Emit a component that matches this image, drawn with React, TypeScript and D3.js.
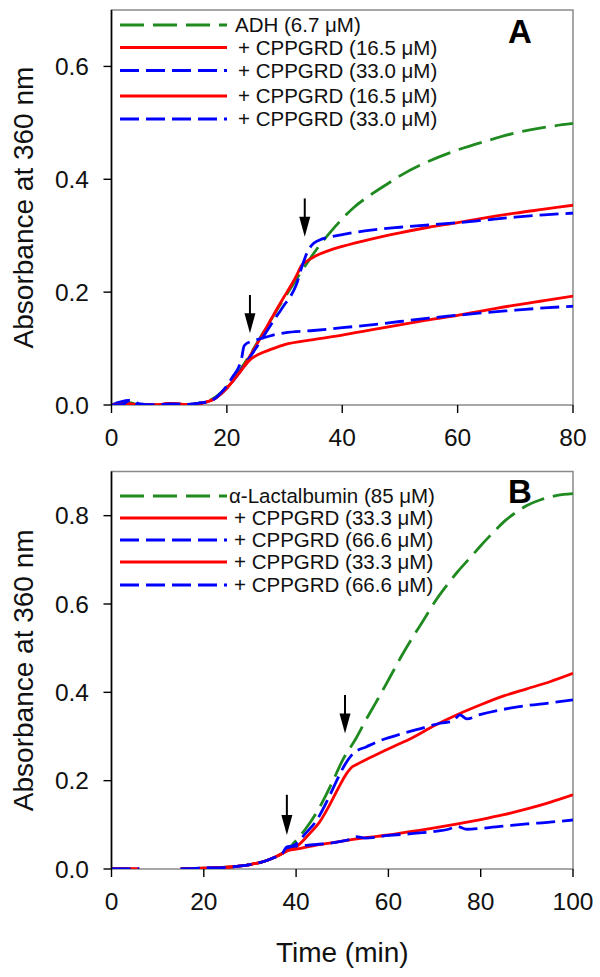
import React from "react";
import * as d3 from "d3";

// ---------------- Panel A data ----------------
const aXTicks = [0, 20, 40, 60, 80];
const aYTicks = [0.0, 0.2, 0.4, 0.6];
const aYTickLabels = ["0.0", "0.2", "0.4", "0.6"];

const aGreenT = [0,3,5,8,10,13,15,17,18,19,20,21,22,23,24,25,26,27,28,29,30,31,32,33,34,35,36,37,38,40,42,45,48,50,55,60,65,70,75,80];
const aGreenV = [0,0.004,0,0,0.002,0.001,0.003,0.008,0.014,0.022,0.032,0.044,0.058,0.073,0.089,0.106,0.123,0.14,0.157,0.174,0.19,0.206,0.222,0.238,0.253,0.268,0.282,0.295,0.307,0.33,0.35,0.373,0.393,0.406,0.432,0.452,0.468,0.482,0.492,0.499];

const aUpperT = [0,3,5,8,10,13,15,17,18,19,20,21,22,23,24,25,26,27,28,29,30,31,32,33,34,35,36,38,40,45,50,55,60,65,70,75,80];
const aRedUpperV = [0,0.002,0,0,0.003,0.001,0.002,0.007,0.012,0.02,0.03,0.042,0.055,0.07,0.087,0.104,0.122,0.14,0.158,0.176,0.193,0.21,0.228,0.248,0.256,0.262,0.267,0.275,0.281,0.294,0.305,0.315,0.323,0.332,0.34,0.347,0.354];
const aBlueUpperV = [0,0.008,0.002,0,0.002,0.001,0.003,0.007,0.012,0.02,0.03,0.042,0.055,0.07,0.085,0.1,0.116,0.132,0.148,0.163,0.178,0.192,0.212,0.245,0.272,0.286,0.292,0.298,0.302,0.31,0.315,0.319,0.323,0.328,0.333,0.337,0.34];

const aRedLowerT = [0,3,5,8,10,13,15,17,18,19,20,21,22,23,24,25,26,28,30,35,40,45,50,55,60,65,70,75,80];
const aRedLowerV = [0,0.002,0,0,0.003,0.001,0.002,0.007,0.012,0.02,0.03,0.042,0.055,0.068,0.08,0.087,0.092,0.1,0.107,0.116,0.124,0.133,0.142,0.151,0.159,0.168,0.177,0.185,0.193];

const aBlueLowerT = [0,2,3,4,5,8,10,13,15,17,18,19,20,21,22,22.5,23,24,25,26,28,30,35,40,45,50,55,60,65,70,75,80];
const aBlueLowerV = [0,0.001,0.008,0.003,0.001,0,0.002,0.001,0.003,0.007,0.012,0.022,0.034,0.05,0.066,0.08,0.105,0.112,0.115,0.118,0.124,0.128,0.132,0.137,0.142,0.148,0.154,0.159,0.164,0.168,0.172,0.175];

const aLegend = ["ADH (6.7 \u03bcM)", "+ CPPGRD (16.5 \u03bcM)", "+ CPPGRD (33.0 \u03bcM)", "+ CPPGRD (16.5 \u03bcM)", "+ CPPGRD (33.0 \u03bcM)"];
const aArrowT = [24, 33.5];
const aArrowTop = [0.195, 0.366];
const aArrowTip = [0.127, 0.298];

// ---------------- Panel B data ----------------
const bXTicks = [0, 20, 40, 60, 80, 100];
const bYTicks = [0.0, 0.2, 0.4, 0.6, 0.8];
const bYTickLabels = ["0.0", "0.2", "0.4", "0.6", "0.8"];

const bGreenT = [0,6,10,15,20,25,28,30,33,35,37,38,40,42,45,48,50,53,55,58,60,63,65,68,70,73,75,78,80,83,85,88,90,93,95,98,100];
const bGreenV = [0,0,null,0,0.002,0.004,0.007,0.01,0.017,0.025,0.035,0.042,0.065,0.09,0.138,0.2,0.245,0.296,0.335,0.39,0.428,0.485,0.52,0.57,0.604,0.647,0.673,0.708,0.732,0.765,0.786,0.81,0.823,0.836,0.842,0.848,0.85];

const bRedUpperT = [0,6,10,15,20,25,28,30,33,35,37,38,40,43,45,47,49,51,52,53,55,58,61,65,70,75,80,85,90,95,100];
const bRedUpperV = [0,0,null,0,0.002,0.004,0.007,0.01,0.017,0.025,0.035,0.041,0.05,0.081,0.105,0.14,0.18,0.217,0.23,0.236,0.247,0.262,0.277,0.296,0.325,0.35,0.372,0.392,0.408,0.424,0.443];

const bBlueUpperT = [0,6,10,15,20,25,28,30,33,35,37,38,40,42,44.5,47,48.8,50.5,52.4,55.3,58,63.2,67,71.2,74,75.5,77,80,86.3,90,95,100];
const bBlueUpperV = [0,0,null,0,0.002,0.004,0.007,0.01,0.017,0.025,0.035,0.045,0.057,0.08,0.111,0.16,0.2,0.235,0.262,0.277,0.29,0.307,0.318,0.33,0.335,0.349,0.34,0.35,0.364,0.37,0.376,0.383];

const bRedLowerT = [0,6,10,15,20,25,28,30,33,35,37,38,40,45,50,55,60,65,70,75,80,85,90,95,100];
const bRedLowerV = [0,0,null,0,0.002,0.004,0.007,0.01,0.017,0.025,0.035,0.041,0.045,0.055,0.063,0.071,0.077,0.085,0.093,0.102,0.112,0.123,0.136,0.151,0.168];

const bBlueLowerT = [0,6,10,15,20,25,28,30,33,35,37,38,40,45,50,52,53,55,60,65,70,73,75,77,80,85,90,95,100];
const bBlueLowerV = [0,0,null,0,0.002,0.004,0.007,0.01,0.017,0.025,0.035,0.05,0.052,0.056,0.063,0.068,0.073,0.07,0.076,0.08,0.085,0.09,0.096,0.09,0.092,0.097,0.102,0.106,0.111];

const bLegend = ["\u03b1-Lactalbumin (85 \u03bcM)", "+ CPPGRD (33.3 \u03bcM)", "+ CPPGRD (66.6 \u03bcM)", "+ CPPGRD (33.3 \u03bcM)", "+ CPPGRD (66.6 \u03bcM)"];
const bArrowT = [38, 50.6];
const bArrowTop = [0.168, 0.394];
const bArrowTip = [0.077, 0.307];

// ---------------- styles ----------------
const FONT = "'Liberation Sans', Arial, Helvetica, sans-serif";
const GREEN = "#1f8a1f";
const RED = "#ff0000";
const BLUE = "#0000ff";
const seriesStyles = [
  { color: GREEN, dash: "24 9" },
  { color: RED, dash: null },
  { color: BLUE, dash: "19 7" },
  { color: RED, dash: null },
  { color: BLUE, dash: "19 7" },
];

type PanelCfg = {
  xMax: number;
  yMax: number;
  xTicks: number[];
  yTicks: number[];
  yTickLabels: string[];
  top: number;
  bottom: number;
  series: { t: number[]; v: (number | null)[] }[];
  legend: string[];
  legendRows: number[];
  legendTextX: number[];
  letter: string;
  letterY: number;
  arrowT: number[];
  arrowTop: number[];
  arrowTip: number[];
  showXTitle: boolean;
  id: string;
};

const LEFT = 111.5;
const RIGHT = 573;

function Panel({ c }: { c: PanelCfg }) {
  const x = d3.scaleLinear().domain([0, c.xMax]).range([LEFT, RIGHT]);
  const y = d3.scaleLinear().domain([0, c.yMax]).range([c.bottom, c.top]);
  const line = d3
    .line<{ t: number; v: number | null }>()
    .defined((d) => d.v !== null)
    .x((d) => x(d.t))
    .y((d) => y(d.v as number))
    .curve(d3.curveMonotoneX);
  const midY = (c.top + c.bottom) / 2;
  const clipId = "clip" + c.id;
  return (
    <g>
      <defs>
        <clipPath id={clipId}>
          <rect x={LEFT} y={c.top} width={RIGHT - LEFT} height={c.bottom - c.top} />
        </clipPath>
      </defs>
      {/* frame */}
      <rect x={LEFT} y={c.top} width={RIGHT - LEFT} height={c.bottom - c.top} fill="none" stroke="#8a8a8a" strokeWidth={1.5} />
      {/* legend */}
      {c.legend.map((lab, i) => (
        <g key={"lg" + i}>
          <line
            x1={120}
            x2={227}
            y1={c.legendRows[i]}
            y2={c.legendRows[i]}
            stroke={seriesStyles[i].color}
            strokeWidth={3}
            strokeDasharray={seriesStyles[i].dash || undefined}
          />
          <text x={c.legendTextX[i]} y={c.legendRows[i] + 7} fontSize={20.5} fontFamily={FONT} fill="#111">
            {lab}
          </text>
        </g>
      ))}
      {/* series */}
      <g clipPath={`url(#${clipId})`}>
        {c.series.map((s, i) => {
          const pts = s.t.map((t, k) => ({ t, v: s.v[k] }));
          return (
            <path
              key={"s" + i}
              d={line(pts) || ""}
              fill="none"
              stroke={seriesStyles[i].color}
              strokeWidth={2.8}
              strokeDasharray={seriesStyles[i].dash || undefined}
              strokeLinejoin="round"
            />
          );
        })}
      </g>
      {/* left axis */}
      <line x1={LEFT} x2={LEFT} y1={c.top} y2={c.bottom} stroke="#000" strokeWidth={1.6} />
      {c.yTicks.map((t, i) => (
        <g key={"yt" + i}>
          <line x1={LEFT - 8} x2={LEFT} y1={y(t)} y2={y(t)} stroke="#000" strokeWidth={1.4} />
          <text x={89} y={y(t) + 8.8} textAnchor="end" fontSize={24.5} fontFamily={FONT} fill="#111">
            {c.yTickLabels[i]}
          </text>
        </g>
      ))}
      {c.xTicks.map((t, i) => (
        <g key={"xt" + i}>
          <line x1={x(t)} x2={x(t)} y1={c.bottom} y2={c.bottom + 8} stroke="#000" strokeWidth={1.4} />
          <text x={x(t)} y={c.bottom + 41} textAnchor="middle" fontSize={24.5} fontFamily={FONT} fill="#111">
            {t}
          </text>
        </g>
      ))}
      {/* arrows */}
      {c.arrowT.map((t, i) => {
        const ax = x(t);
        const y0 = y(c.arrowTop[i]);
        const y1 = y(c.arrowTip[i]);
        const headLen = 20;
        const headW = 5.5;
        return (
          <g key={"ar" + i}>
            <line x1={ax} x2={ax} y1={y0} y2={y1 - headLen + 2} stroke="#000" strokeWidth={2} />
            <polygon points={`${ax - headW},${y1 - headLen} ${ax + headW},${y1 - headLen} ${ax},${y1}`} fill="#000" />
          </g>
        );
      })}
      {/* panel letter */}
      <text x={520} y={c.letterY} textAnchor="middle" fontSize={33} fontWeight="bold" fontFamily={FONT} fill="#000">
        {c.letter}
      </text>
      {/* y title */}
      <text
        transform={`translate(33,${midY}) rotate(-90)`}
        textAnchor="middle"
        fontSize={28}
        fontFamily={FONT}
        fill="#111"
      >
        Absorbance at 360 nm
      </text>
      {c.showXTitle && (
        <text x={(LEFT + RIGHT) / 2} y={962} textAnchor="middle" fontSize={28} fontFamily={FONT} fill="#111">
          Time (min)
        </text>
      )}
    </g>
  );
}

export default function App() {
  const panelA: PanelCfg = {
    id: "A",
    xMax: 80,
    yMax: 0.7,
    xTicks: aXTicks,
    yTicks: aYTicks,
    yTickLabels: aYTickLabels,
    top: 10,
    bottom: 405,
    series: [
      { t: aGreenT, v: aGreenV },
      { t: aUpperT, v: aRedUpperV },
      { t: aUpperT, v: aBlueUpperV },
      { t: aRedLowerT, v: aRedLowerV },
      { t: aBlueLowerT, v: aBlueLowerV },
    ],
    legend: aLegend,
    legendRows: [25, 47.5, 70.5, 96, 119],
    legendTextX: [235, 238, 238, 238, 238],
    letter: "A",
    letterY: 43,
    arrowT: aArrowT,
    arrowTop: aArrowTop,
    arrowTip: aArrowTip,
    showXTitle: false,
  };
  const panelB: PanelCfg = {
    id: "B",
    xMax: 100,
    yMax: 0.9,
    xTicks: bXTicks,
    yTicks: bYTicks,
    yTickLabels: bYTickLabels,
    top: 471.5,
    bottom: 869,
    series: [
      { t: bGreenT, v: bGreenV },
      { t: bRedUpperT, v: bRedUpperV },
      { t: bBlueUpperT, v: bBlueUpperV },
      { t: bRedLowerT, v: bRedLowerV },
      { t: bBlueLowerT, v: bBlueLowerV },
    ],
    legend: bLegend,
    legendRows: [496, 518, 540, 562, 585],
    legendTextX: [229, 234, 234, 234, 234],
    letter: "B",
    letterY: 503,
    arrowT: bArrowT,
    arrowTop: bArrowTop,
    arrowTip: bArrowTip,
    showXTitle: true,
  };
  return (
    <svg
      width={600}
      height={977}
      style={{ position: "absolute", left: 0, top: 0, background: "#fff" }}
    >
      <rect x={0} y={0} width={600} height={977} fill="#fff" />
      <Panel c={panelA} />
      <Panel c={panelB} />
    </svg>
  );
}
